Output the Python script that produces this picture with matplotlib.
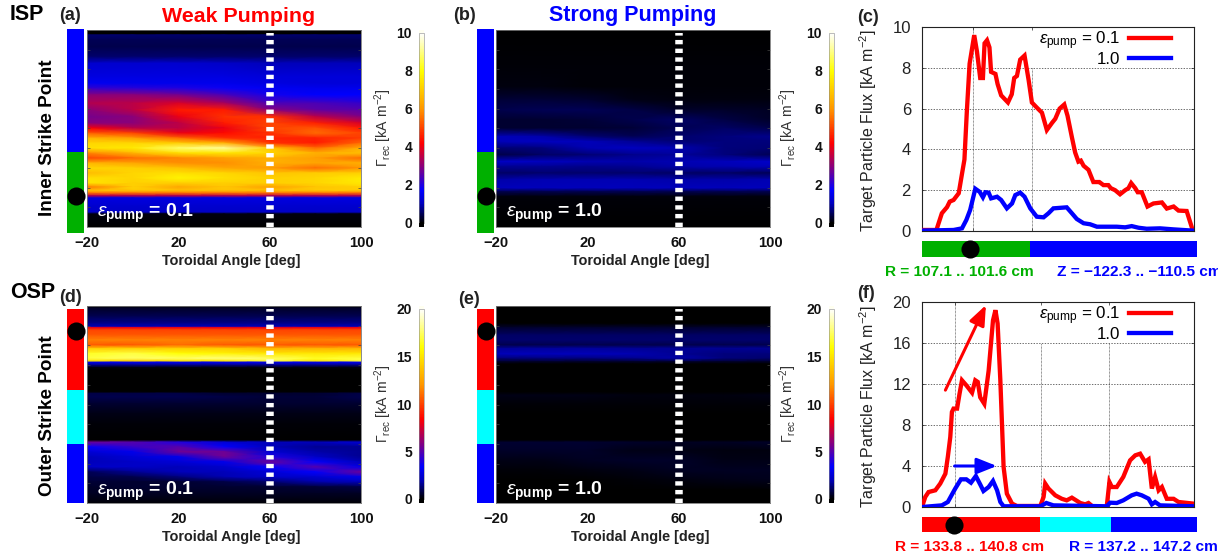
import matplotlib
matplotlib.use("Agg")
import matplotlib.pyplot as plt
from matplotlib.colors import LinearSegmentedColormap
from matplotlib.patches import Rectangle
from matplotlib.transforms import Bbox, TransformedBbox, IdentityTransform
import numpy as np

plt.rcParams['font.family'] = ['Liberation Sans', 'DejaVu Sans']
plt.rcParams['mathtext.fontset'] = 'custom'
plt.rcParams['mathtext.rm'] = 'Liberation Sans'
plt.rcParams['mathtext.bf'] = 'Liberation Sans:bold'
plt.rcParams['mathtext.it'] = 'Liberation Sans:italic'

W, H = 1230, 560
ANGLES = [-20, 0, 20, 40, 60, 80, 100]

ROWS_A = [90,103,105,120,140,170,190,230,250,265,285,310,330,350,370,385,400,415,430,445,460,475,490,505,520,535,550,562,572,580,588,595,620,638,643,682]
HEAT_A = [
[0,0,0,0,0,0,0],[0,0,0,0,0,0,0],[.6,.6,.6,.6,.6,.6,.6],[.5,.5,.5,.5,.5,.5,.5],[.45,.45,.45,.45,.45,.45,.45],[.6,.6,.6,.6,.6,.6,.6],
[1.2,1.2,1.2,1.1,1.0,1.0,1.0],[1.4,1.4,1.4,1.4,1.3,1.3,1.3],[1.6,1.5,1.5,1.5,1.4,1.3,1.3],[2.2,2.1,2.0,1.8,1.6,1.5,1.5],
[3.0,3.0,2.8,2.4,1.9,1.7,1.7],[3.4,3.5,3.8,3.3,2.4,2.4,2.2],[3.0,3.5,4.5,4.5,3.0,2.6,2.5],[2.8,3.0,4.0,4.8,4.8,3.5,2.9],
[3.0,3.0,3.5,4.5,5.0,4.6,3.8],[4.2,3.5,3.5,4.0,5.0,5.2,4.5],[5.3,5.0,4.0,4.3,4.8,5.5,5.0],[6.6,6.2,5.5,4.8,4.6,4.6,4.9],
[7.2,7.2,7.0,6.5,4.8,4.5,5.5],[7.4,7.6,8.8,9.2,7.0,5.5,6.5],[5.8,6.6,7.4,7.5,7.2,6.5,6.8],[5.0,5.5,5.8,6.2,6.5,6.2,5.5],
[6.6,6.3,5.9,5.9,6.5,6.3,6.5],[7.2,7.1,6.8,6.3,6.1,5.5,6.0],[6.7,7.2,7.4,7.2,6.9,7.0,7.1],[7.4,7.2,7.8,7.4,7.1,7.2,7.6],
[7.5,7.1,7.1,7.1,7.1,7.2,7.6],[5.6,7.1,6.3,6.9,6.2,6.9,7.1],[6.8,7.0,6.8,6.9,6.8,7.0,7.0],[5.6,5.6,5.6,5.6,5.6,5.6,5.6],
[3.5,3.5,3.5,3.5,3.5,3.5,3.5],[1.4,1.4,1.4,1.4,1.4,1.4,1.4],[1.2,1.2,1.2,1.2,1.2,1.2,1.2],[1.1,1.1,1.1,1.1,1.1,1.1,1.1],
[.1,.1,.1,.1,.1,.1,.1],[0,0,0,0,0,0,0]]

ROWS_B = [90,200,260,300,330,360,385,410,425,445,465,485,500,520,540,565,575,590,600,682]
HEAT_B = [
[0,0,0,0,0,0,0],[.05,.05,.05,.05,.05,.05,.05],[.1,.1,.05,.05,.05,.05,.05],[.35,.35,.3,.15,.1,.1,.1],[.45,.5,.5,.4,.25,.25,.2],
[.3,.3,.35,.45,.55,.4,.25],[.3,.3,.3,.35,.5,.55,.45],[1.0,.9,.65,.5,.6,.7,.75],[1.0,1.05,1.0,.8,.65,.7,.7],[.65,.7,.95,1.05,.95,.7,.65],
[.4,.55,.65,.75,.85,.7,.5],[1.1,1.05,.95,.9,.95,1.0,1.1],[.8,.8,.75,.8,.9,.95,1.0],[.55,.6,.6,.6,.55,.55,.5],[.9,.95,.95,.95,.9,.9,.95],
[1.0,1.0,1.0,1.0,1.0,1.0,1.0],[.5,.5,.5,.5,.5,.5,.5],[.1,.1,.1,.1,.1,.1,.1],[.05,.05,.05,.05,.05,.05,.05],[0,0,0,0,0,0,0]]

ROWS_D = [78,85,110,130,140,143,150,165,180,195,205,220,235,243,247,255,262,270,335,340,350,370,400,430,480,486,500,515,530,545,560,575,590,605,620,640,668]
HEAT_D = [
[0,0,0,0,0,0,0],[.5,.5,.5,.5,.5,.5,.5],[1,1,1,1,1,1,1],[1.5,1.5,1.5,1.5,1.5,1.5,1.5],[2,2,2,2,2,2,2],[8,8,8,8,8,8,8],
[10,10,10,10,10,10,10],[10.5,10.5,10.5,10.5,10.5,10.5,10.5],[11.5,11.5,11.5,11.5,11.5,11.5,11.5],[10.5,10.5,11,10.5,10.5,10.5,10.5],[14,14,14,14,13,13,13],
[16.5,17,16,15.5,15,15,15],[17,17.5,17.5,18,17.5,16.5,17],[15,14,15,15,17,15,17],[3,3,3,3,3,3,3],[1.5,1.5,1.5,1.5,1.5,1.5,1.5],
[.3,.3,.3,.3,.3,.3,.3],[.05,.05,.05,.05,.05,.05,.05],[0,0,0,0,0,0,0],[.8,.8,.8,.6,.6,.6,.8],[.9,.9,.9,.8,.7,.7,.9],[.6,.6,.6,.6,.6,.6,.6],
[.3,.3,.3,.3,.3,.3,.3],[.1,.1,.1,.1,.1,.1,.1],[.05,.05,.05,.05,.05,.05,.05],[5.5,5,4,2.5,2,2,2.5],[3.5,4.5,5,3.5,2,1.6,1.6],
[2.5,3,5.5,5.5,2.5,1.8,1.6],[2,2.5,3,5.5,4,2.2,1.6],[2,2.2,2.5,3,5.5,3.5,2],[2.2,2.2,2,2.3,3.5,5,3],[1,1.6,2,2,2.5,3.5,5.5],
[.8,.9,1.4,1.9,2.2,2.4,3],[.7,.6,.6,.8,1.2,1.8,2],[.5,.6,.6,.6,.6,.7,.8],[.4,.4,.4,.4,.4,.4,.4],[.1,.1,.1,.1,.1,.1,.1]]

ROWS_E = [78,130,143,165,180,195,205,222,235,245,252,335,345,370,400,480,486,510,540,570,600,630,668]
HEAT_E = [
[0,0,0,0,0,0,0],[.05,.05,.05,.05,.05,.05,.05],[.6,.6,.6,.6,.6,.6,.6],[1.1,1.1,1.1,1.1,1.1,1.1,1.1],[1.2,1.2,1.2,1.2,1.2,1.2,1.2],
[.9,.9,.9,.9,.9,.9,.9],[1.7,1.7,1.7,1.6,1.6,1.6,1.6],[2.0,2.0,2.0,1.9,1.6,1.4,1.4],[1.3,1.4,1.4,1.5,1.8,1.4,1.2],[.5,.5,.5,.5,.5,.5,.5],
[.05,.05,.05,.05,.05,.05,.05],[0,0,0,0,0,0,0],[.3,.3,.3,.2,.2,.2,.3],[.15,.15,.15,.15,.15,.15,.15],[.05,.05,.05,.05,.05,.05,.05],
[.03,.03,.03,.03,.03,.03,.03],[.6,.6,.6,.5,.4,.4,.5],[.5,.5,.5,.3,.25,.2,.2],[.3,.3,.4,.5,.5,.3,.3],[.1,.1,.2,.3,.45,.45,.4],
[.05,.05,.05,.1,.2,.3,.35],[.05,.05,.05,.05,.05,.05,.05],[.02,.02,.02,.02,.02,.02,.02]]

CX_RED_X = [0,5.3,7.3,9.2,10.2,11.6,13.5,14.7,15.6,16.5,17.5,19.2,20.2,21.4,22.4,23,23.9,24.8,25.4,27,27.8,29.1,31.6,33,33.9,34.9,36.1,37.7,39.2,40.4,42.2,44.1,45.9,47.8,49,50.6,52.3,53.5,55.1,56.3,57.5,58.4,59.4,61.2,63,64.5,65.2,66.7,68.5,69.4,71,72.8,74.7,75.9,76.9,78.4,79.3,80.8,82.9,85.1,88.2,90,92.5,94.3,97.3,99.5]
CX_RED_Y = [.05,.05,.87,1.17,1.44,1.52,1.85,2.8,3.5,5.9,8.2,9.6,8.8,7.5,7.5,9.2,9.35,9.0,7.8,7.7,7.2,6.65,6.3,6.7,7.5,7.6,8.4,8.6,7.4,6.3,6.05,5.8,4.95,5.3,5.5,6.0,6.2,5.65,4.6,3.85,3.4,3.45,3.2,3.0,2.4,2.4,2.4,2.25,2.25,2.1,2.0,1.8,2.0,2.1,2.35,2.1,1.9,1.9,1.2,1.35,1.4,1.1,1.2,1.0,.98,.05]
CX_BLUE_X = [0,11.6,14.7,16.3,17.7,19.6,21.2,22.4,23.3,24.5,25.4,27.6,29.1,31.2,33.1,34.3,36.1,37.7,39.8,42.2,44.7,46.5,48.3,53.2,55.1,56.9,59.4,61.8,64.3,71.6,74.7,77.1,79.6,82.6,87.5,92.4,99.5]
CX_BLUE_Y = [.02,.05,.13,.54,1.03,2.07,1.92,1.65,1.9,1.88,1.6,1.68,1.52,1.11,1.35,1.76,1.88,1.68,1.11,.7,.67,.87,1.11,1.16,.87,.59,.38,.33,.21,.21,.18,.24,.16,.11,.13,.08,.02]
FX_RED_X = [0,1.2,2.4,4.9,6.7,8.6,9.5,10.4,11,11.6,12.9,13.8,14.7,16.3,18.4,19.6,20.5,21.4,22.9,24.5,26.1,27,27.8,28.8,30,31.2,33.1,34.9,43.5,44.7,45.3,46.5,49,51.4,53.2,55.1,58.2,60,61.2,63,67.9,68.9,69.8,71.6,74,76.5,78.4,80.2,82,83.3,84.5,85.7,87,88.2,90,92.5,94.3,99.8]
FX_RED_Y = [0,.98,1.46,1.63,2.28,3.25,4.9,6.83,9.27,9.6,9.6,11.05,12.36,11.87,11.15,12.36,12.2,10.7,10.07,13.3,18.2,19.2,17.9,12.36,3.9,1.3,.33,.1,.1,.98,2.28,1.8,1.14,.8,.65,.91,.39,.26,.39,0,0,2.44,1.95,1.95,2.93,4.55,5.04,5.2,4.4,4.65,1.8,2.93,1.63,1.95,.8,.8,.49,.33]
FX_BLUE_X = [0,7.3,9.5,12.2,14.3,16.3,18,19.8,21.4,22.6,24.5,26.1,27.6,28.8,30,43.5,45.7,48.3,67.9,69.2,71.6,74,77.1,78.9,80.8,83.3,84.5,85.7,87.5,99.8]
FX_BLUE_Y = [0,.16,.49,1.79,2.7,2.7,2.37,3.02,2.2,1.56,1.95,2.54,1.63,.49,.07,.07,.39,.16,.07,.42,.39,.65,1.14,1.3,1.14,.81,.26,.49,.16,.07]

cmap = LinearSegmentedColormap.from_list('flux', [
    (0, (0,0,0)), (.04, (0,0,70/255)), (.1, (0,0,190/255)), (.17, (0,0,1)), (.3, (140/255,0,120/255)),
    (.42, (1,0,0)), (.6, (1,150/255,0)), (.8, (1,1,0)), (1, (1,1,1))])

fig = plt.figure(figsize=(W/100, H/100), dpi=100, facecolor='white')

def axpx(x0, y0, x1, y1, **kw):
    return fig.add_axes([x0/W, 1-y1/H, (x1-x0)/W, (y1-y0)/H], **kw)

def ftext(x, y, s, **kw):
    kw.setdefault('ha', 'center'); kw.setdefault('va', 'center')
    return fig.text(x/W, 1-y/H, s, **kw)

def heat(x0, y0, y1, rows, z, vmax, pump):
    ax = axpx(x0, y0, x0+274, y1)
    m = ax.pcolormesh(ANGLES, rows, np.array(z, float), cmap=cmap, vmin=0, vmax=vmax, shading='gouraud')
    ax.set_xlim(-20, 100); ax.set_ylim(rows[-1], rows[0])
    ax.set_xticks([-20, 20, 60, 100]); ax.set_xticklabels(['\u221220', '20', '60', '100'], fontweight='bold', fontsize=10.6, color='#111111')
    ax.set_yticks(np.linspace(rows[0], rows[-1], 11)[1:-1]); ax.set_yticklabels([])
    ax.tick_params(axis='y', length=2.5, width=.5, direction='in', color='#444444', left=True, right=True)
    ax.tick_params(axis='x', length=0, pad=6.5)
    for s in ax.spines.values():
        s.set_color('#777777'); s.set_linewidth(.6)
    ax.axvline(60, color='white', lw=5.4, dashes=(.58, .58), ymin=0.0, ymax=.985)
    ftext(x0+144, y1+34, 'Toroidal Angle [deg]', fontweight='bold', fontsize=10.4, color='#222222')
    ax.text(.035, .07 if y0 < 100 else .06, pump, transform=ax.transAxes, color='white', fontsize=14, fontweight='bold', ha='left', va='center')
    return m

def cbar(m, x0, y0, y1, ticks, lab_x):
    fig.add_artist(Rectangle((x0/W, 1-(y0+3)/H), 5/W, 3/H, transform=fig.transFigure, color='#fffff0', lw=0))
    fig.add_artist(Rectangle((x0/W, 1-y1/H), 5/W, 4/H, transform=fig.transFigure, color='black', lw=0))
    cax = axpx(x0, y0+3, x0+5, y1-4)
    cb = fig.colorbar(m, cax=cax)
    cb.set_ticks(ticks)
    cax.yaxis.set_ticks_position('left')
    cax.tick_params(length=0, pad=5, labelsize=10)
    for t in cax.get_yticklabels():
        t.set_fontweight('bold'); t.set_color('#111111')
    cb.outline.set_edgecolor('#888888'); cb.outline.set_linewidth(.4)
    ftext(lab_x, (y0+y1)/2-1, r'$\Gamma_{\mathrm{rec}}$ [kA m$^{-2}$]', rotation=90, fontsize=10.2, color='#333333')

def vstrip(x0, y0, y1, edges, cols, dot_y):
    ax = axpx(x0, y0, x0+17, y1)
    ax.set_xlim(0, 1); ax.set_ylim(y1, y0); ax.axis('off')
    for a, b, c in zip(edges[:-1], edges[1:], cols):
        ax.bar(.5, b-a, bottom=a, width=1, color=c)
    ax.scatter([.5], [dot_y], s=170, color='black', zorder=5, clip_on=False, linewidths=0)

def hstrip(x0, x1, y0, y1, edges, cols, dot_x):
    ax = axpx(x0, y0, x1, y1)
    ax.set_xlim(x0, x1); ax.set_ylim(0, 1); ax.axis('off')
    for a, b, c in zip(edges[:-1], edges[1:], cols):
        ax.barh(.5, b-a, left=a, height=1, color=c)
    ax.scatter([dot_x], [.5], s=170, color='black', zorder=5, clip_on=False, linewidths=0)

def lines(y0, y1, ymax, yt, gx, gtop, rx, ry, bx, by):
    ax = axpx(922, y0, 1194, y1)
    ax.set_xlim(0, 100); ax.set_ylim(0, ymax)
    ax.set_xticks(gx); ax.set_xticklabels([])
    ax.set_yticks(yt)
    ax.grid(True, axis='y', color='#333333', lw=.5, dashes=(2, 2))
    ax.vlines(gx, 0, gtop, color='#333333', lw=.5, linestyles=[(0, (1, 1))])
    ax.tick_params(axis='both', direction='in', length=2, width=.5, labelsize=12, pad=8, colors='#222222', top=True, right=True)
    ax.plot(rx, ry, color='#ff0000', lw=3.1, label=r'$\varepsilon_{\mathrm{pump}}$ = 0.1', solid_joinstyle='miter', zorder=4)
    ax.plot(bx, by, color='#0000ff', lw=3.1, label='1.0', solid_joinstyle='miter', zorder=4)
    for s in ax.spines.values():
        s.set_linewidth(.8); s.set_color('#222222')
    ax.legend(loc='upper right', frameon=False, markerfirst=False, fontsize=12.2, handlelength=2.45,
              labelspacing=-.02, bbox_to_anchor=(.965, 1.055), handletextpad=.55, borderpad=.3)
    return ax

PUMP_01 = r'$\varepsilon_{\mathbf{pump}}$ = 0.1'
PUMP_10 = r'$\varepsilon_{\mathbf{pump}}$ = 1.0'

# Heat panels
ma = heat(87, 30, 227, ROWS_A, HEAT_A, 10, PUMP_01)
mb = heat(496, 30, 227, ROWS_B, HEAT_B, 10, PUMP_10)
md = heat(87, 306, 503, ROWS_D, HEAT_D, 20, PUMP_01)
me = heat(496, 306, 503, ROWS_E, HEAT_E, 20, PUMP_10)
cbar(ma, 419, 30, 227, [0,2,4,6,8,10], 383)
cbar(mb, 829, 30, 227, [0,2,4,6,8,10], 788)
cbar(md, 419, 306, 503, [0,5,10,15,20], 383)
cbar(me, 829, 306, 503, [0,5,10,15,20], 788)

# strips
for x in (67, 477):
    vstrip(x, 29, 233, [29, 152, 233], ['#0000ff', '#00b000'], 196)
    vstrip(x, 309, 503, [309, 390, 444, 503], ['#ff0000', '#00ffff', '#0000ff'], 331)
hstrip(922, 1197, 241, 257, [922, 1030, 1197], ['#00b000', '#0000ff'], 970)
hstrip(922, 1197, 517, 532, [922, 1040, 1111, 1197], ['#ff0000', '#00ffff', '#0000ff'], 954)

# line panels
axc = lines(27, 231, 10, [0,2,4,6,8,10], [18.7, 40.4], [10, 8], CX_RED_X, CX_RED_Y, CX_BLUE_X, CX_BLUE_Y)
axf = lines(302, 507, 20, [0,4,8,12,16,20], [12.2, 43.8, 68.7], [20, 16, 16], FX_RED_X, FX_RED_Y, FX_BLUE_X, FX_BLUE_Y)
axf.annotate('', xy=(23.5, 19.7), xytext=(8.6, 11.4), arrowprops=dict(arrowstyle='-|>,head_width=.4,head_length=1', mutation_scale=12, color='#ff0000', lw=2.2, shrinkA=0, shrinkB=0), zorder=6)
axf.annotate('', xy=(27.5, 4), xytext=(12, 4), arrowprops=dict(arrowstyle='-|>,head_width=.4,head_length=1', mutation_scale=12, color='#0000ff', lw=2.2, shrinkA=0, shrinkB=0), zorder=6)

for y in (131, 407):
    ftext(868, y, r'Target Particle Flux [kA m$^{-2}$]', rotation=90, fontsize=11.5, color='#222222')

# titles and labels
ftext(239, 16, 'Weak Pumping', color='#ff0000', fontweight='bold', fontsize=15.4)
ftext(633, 16, 'Strong Pumping', color='#0000ff', fontweight='bold', fontsize=15.5)
ftext(10, 15, 'ISP', fontweight='bold', fontsize=15.5, ha='left')
ftext(10, 292, 'OSP', fontweight='bold', fontsize=15.5, ha='left')
for x, y, s in [(70,16,'(a)'),(464,16,'(b)'),(868,17,'(c)'),(71,298,'(d)'),(469,299,'(e)'),(866,293,'(f)')]:
    ftext(x, y, s, fontweight='bold', fontsize=13, color='#222222')
ftext(48, 138, 'Inner Strike Point', rotation=90, fontweight='bold', fontsize=13.6)
ftext(48, 416, 'Outer Strike Point', rotation=90, fontweight='bold', fontsize=13.6)

ftext(959, 272, 'R = 107.1 .. 101.6 cm', color='#00b000', fontweight='bold', fontsize=11.1)
t = ftext(1057, 272, 'Z = \u2212122.3 .. \u2212110.5 cm', color='#0000ff', fontweight='bold', fontsize=11.1, ha='left')
t.set_clip_on(True)
t.set_clip_box(TransformedBbox(Bbox([[0, 0], [1218, 560]]), IdentityTransform()))
ftext(970, 547, 'R = 133.8 .. 140.8 cm', color='#ff0000', fontweight='bold', fontsize=11.1)
ftext(1143, 547, 'R = 137.2 .. 147.2 cm', color='#0000ff', fontweight='bold', fontsize=11.1)

fig.savefig('out.png', dpi=100, facecolor='white')
